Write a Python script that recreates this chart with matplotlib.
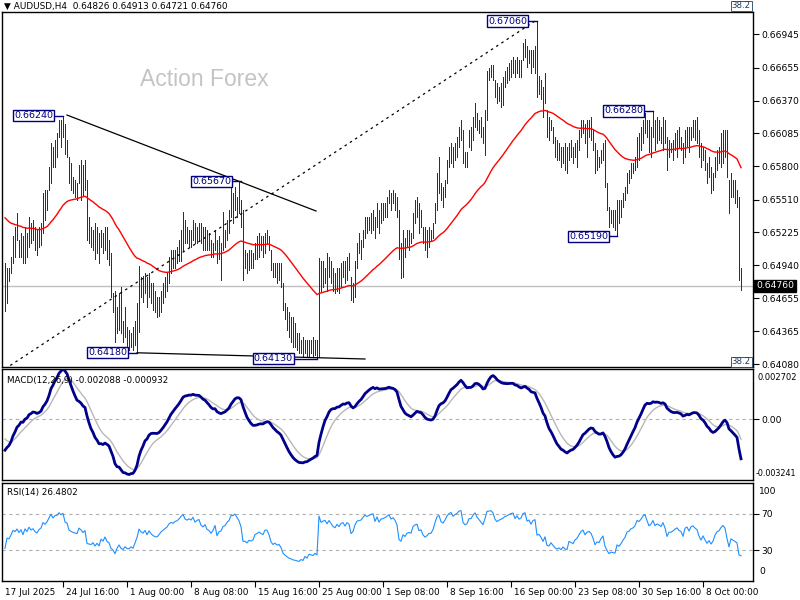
import matplotlib
matplotlib.use("Agg")
import matplotlib.pyplot as plt
import numpy as np

plt.rcParams['font.family'] = ['DejaVu Sans']

# AUDUSD H4 bars. Values are pips above base price.
base = 0.6400
high_pips = [96,92,92,101,119,127,139,116,122,119,
    127,122,136,131,133,127,125,127,131,157,
    159,159,179,200,197,203,209,220,220,224,
    217,203,188,183,171,168,165,181,185,181,
    185,168,136,127,125,131,127,122,125,122,
    127,127,116,105,70,72,58,70,75,46,
    58,40,38,35,40,46,61,93,84,85,
    87,84,87,79,79,72,66,66,72,79,
    84,87,101,107,107,107,110,116,125,140,
    133,127,125,125,133,131,127,131,131,127,
    127,125,122,116,113,125,116,119,113,140,
    125,133,142,162,157,162,153,167,151,142,
    107,105,107,107,105,113,119,122,119,119,
    122,125,119,107,96,96,96,96,96,79,
    61,58,53,49,49,44,35,35,29,32,
    29,29,29,29,32,29,29,100,98,98,
    92,105,101,98,92,87,92,92,96,98,
    98,101,105,84,79,98,113,122,116,125,
    136,136,136,139,142,136,148,142,148,148,
    148,153,159,157,159,157,153,142,113,125,
    118,125,125,122,139,151,153,148,142,127,
    127,125,127,125,131,148,174,188,165,162,
    168,185,197,200,197,200,205,214,220,211,
    192,192,211,214,223,235,226,220,223,214,
    229,263,265,268,268,255,252,249,252,257,
    263,266,270,272,275,272,275,272,272,287,
    290,284,281,281,281,284,306,258,255,249,
    261,229,223,220,214,205,203,200,197,197,
    200,197,200,203,197,200,203,211,220,220,
    217,220,220,223,211,200,194,188,194,200,
    203,165,145,142,142,142,151,151,151,157,
    162,174,177,183,183,188,205,209,214,220,
    226,220,220,214,228,220,223,220,214,223,
    220,205,203,200,203,209,211,214,205,200,
    211,214,214,214,220,220,223,211,200,197,
    194,183,188,179,174,188,194,197,209,211,
    211,211,168,174,168,168,159,153,91.3]
low_pips = [54,61,80,87,96,101,116,101,101,96,
    96,101,110,113,116,107,103,110,112,122,
    133,142,159,165,179,179,188,205,197,205,
    191,188,165,159,157,153,151,165,151,155,
    159,116,113,110,107,99,105,96,110,105,
    107,99,94,66,53,27,35,38,35,27,
    32,23,20,23,20,25,18,36,66,62,
    70,58,66,61,55,53,49,50,53,61,
    66,72,79,87,92,92,96,98,98,107,
    113,113,110,110,116,113,113,116,113,107,
    107,107,107,101,101,107,96,99,81,107,
    110,116,122,136,131,142,136,139,127,81,
    92,87,90,92,92,99,99,101,107,101,
    105,113,107,90,84,84,79,81,75,55,
    47,38,32,27,23,23,20,18,18,14,
    18,14,14,18,14,16,13,14,72,75,
    79,72,84,79,72,70,72,70,75,84,
    79,81,90,64,62,66,92,105,99,110,
    118,122,125,122,125,118,127,122,131,133,
    136,136,148,142,148,142,136,99,83,84,
    101,110,107,113,118,131,136,122,127,113,
    107,101,110,116,118,131,142,157,151,145,
    153,165,179,183,179,185,188,197,203,183,
    179,179,197,194,203,214,211,209,205,200,
    190,220,255,257,255,240,235,237,231,233,
    249,252,255,257,261,257,261,257,257,272,
    275,266,270,261,266,261,240,243,238,223,
    235,205,203,211,200,188,185,185,179,183,
    177,174,185,188,183,188,179,194,205,209,
    200,188,205,203,194,174,177,179,183,185,
    162,142,127,131,127,125,119,131,136,145,
    151,157,165,170,174,177,179,185,194,200,
    209,205,192,188,205,194,200,203,200,194,
    200,177,188,192,185,194,188,197,194,183,
    188,197,192,203,205,203,200,188,179,185,
    177,165,171,157,159,171,177,183,179,183,
    188,171,139,153,153,148,145,81,72.1]
close_pips = [58,88,85,98,115,110,120,108,118,100,
    122,112,130,120,125,115,110,122,128,150,
    145,155,175,195,185,198,200,215,210,218,
    195,192,170,165,162,160,158,175,170,162,
    168,120,118,115,120,105,112,100,118,110,
    122,104,98,70,60,35,50,60,40,32,
    40,30,28,33,26,40,55,85,75,70,
    80,64,78,68,60,57,55,62,70,75,
    80,85,95,100,98,104,106,112,120,128,
    120,118,122,120,128,120,125,127,118,115,
    120,112,110,105,110,120,100,108,110,120,
    122,130,135,150,150,155,150,145,135,100,
    100,95,100,98,100,110,112,115,112,110,
    118,118,110,95,88,90,85,86,78,60,
    52,45,38,35,30,28,25,22,24,20,
    24,18,22,20,18,20,16,95,80,85,
    88,80,92,85,78,75,85,80,90,92,
    85,95,92,70,75,95,108,110,112,122,
    130,128,132,135,138,125,140,130,140,142,
    145,150,155,148,152,148,140,105,100,115,
    110,118,120,118,135,140,142,128,130,118,
    112,115,120,120,128,145,165,170,158,155,
    165,180,190,195,188,195,200,210,212,190,
    185,188,205,205,218,228,220,215,210,205,
    225,258,260,262,258,245,240,245,248,252,
    258,260,265,268,270,262,270,265,268,282,
    285,272,275,268,278,280,248,250,242,230,
    240,210,208,215,205,195,190,192,185,190,
    182,180,195,192,188,195,198,205,212,215,
    205,210,212,208,198,180,185,183,190,195,
    165,148,132,135,132,130,145,140,145,152,
    158,170,172,178,180,185,200,198,205,215,
    220,210,200,205,215,205,210,208,205,215,
    205,185,195,195,198,202,205,200,198,188,
    205,208,200,210,212,208,205,192,182,190,
    180,170,175,165,170,182,190,192,200,205,
    200,175,145,165,160,155,150,82.6,76.0]

header = "\u25BC AUDUSD,H4  0.64826 0.64913 0.64721 0.64760"
last_price = 0.64760

price_ticks = [0.66945, 0.66655, 0.66370, 0.66085, 0.65800, 0.65510,
               0.65225, 0.64940, 0.64655, 0.64365, 0.64080]

date_labels = ["17 Jul 2025", "24 Jul 16:00", "1 Aug 00:00", "8 Aug 08:00",
               "15 Aug 16:00", "25 Aug 00:00", "1 Sep 08:00", "8 Sep 16:00",
               "16 Sep 00:00", "23 Sep 08:00", "30 Sep 16:00", "8 Oct 00:00"]
date_bars = [-1.5, 29, 61, 93, 125, 157, 189, 221, 253, 285, 317, 349]

# swing labels: price, bar of the swing, bar where the box ends
swing_prices = [0.66240, 0.65670, 0.64180, 0.64130, 0.67060, 0.66280, 0.65190]
swing_bars = [29, 118, 66, 156, 266, 324, 306]
swing_box_end = [24, 113, 61, 144, 261, 319, 301.5]

# drawn trend lines (bar, price) pairs
trend_solid_1 = [(31, 0.66244), (155.5, 0.65411)]
trend_solid_2 = [(66, 0.64180), (180, 0.64126)]
trend_dotted = [(0, 0.64040), (265, 0.67060)]

# indicator seeds (state before first visible bar)
ema55_seed = 0.6538
ema12_seed, ema26_seed, signal_seed = 0.6490, 0.6505, -0.0009
rsi_seed_gain, rsi_seed_loss, prev_close_seed = 0.0004, 0.0008, 0.6465

highs = base + np.array(high_pips) / 10000
lows = base + np.array(low_pips) / 10000
closes = base + np.array(close_pips) / 10000
n = len(closes)
idx = np.arange(n)


def ema(values, period, seed):
    k = 2.0 / (period + 1)
    out = []
    prev = seed
    for v in values:
        prev = prev + k * (v - prev)
        out.append(prev)
    return np.array(out)


ema55 = ema(closes, 55, ema55_seed)
macd = ema(closes, 12, ema12_seed) - ema(closes, 26, ema26_seed)
signal = ema(macd, 9, signal_seed)

rsi = []
ag, al, pc = rsi_seed_gain, rsi_seed_loss, prev_close_seed
for c in closes:
    ch = c - pc
    ag = (ag * 13 + max(ch, 0)) / 14
    al = (al * 13 + max(-ch, 0)) / 14
    rsi.append(100 - 100 / (1 + ag / al) if al > 0 else 100)
    pc = c
rsi = np.array(rsi)

W, H = 800, 600
fig = plt.figure(figsize=(8, 6), dpi=100)
fig.patch.set_facecolor("white")
left = 2 / W
width = 751 / W
ax1 = fig.add_axes([left, 1 - 367 / H, width, 355 / H])
ax2 = fig.add_axes([left, 1 - 480 / H, width, 111 / H])
ax3 = fig.add_axes([left, 1 - 581 / H, width, 98 / H])

fs = 6.6
for ax in (ax1, ax2, ax3):
    ax.set_xlim(-1.5, 374)
    for s in ax.spines.values():
        s.set_color("black")
        s.set_linewidth(1)
    ax.yaxis.tick_right()
    ax.tick_params(axis="y", direction="out", length=4, width=0.8, pad=2, labelsize=fs)
    ax.tick_params(axis="x", direction="out", length=0, labelbottom=False)

# main price panel
ax1.set_ylim(0.640566, 0.671386)
ax1.axhline(last_price, color="#c0c0c0", lw=1, zorder=1)
ax1.vlines(idx, lows, highs, color="#0d3a5a", lw=0.55, zorder=3, antialiased=False)
ax1.plot(idx, ema55, color="red", lw=1, zorder=4)
ax1.set_yticks(price_ticks)
ax1.set_yticklabels(["%.5f" % p for p in price_ticks])

for pts, ls in ((trend_solid_1, "-"), (trend_solid_2, "-"), (trend_dotted, (0, (2, 3)))):
    ax1.plot([pts[0][0], pts[1][0]], [pts[0][1], pts[1][1]], color="black",
             lw=0.9, ls=ls, zorder=5)

for p, b, e in zip(swing_prices, swing_bars, swing_box_end):
    ax1.plot([e, b], [p, p], color="#000080", lw=1, zorder=6)
    ax1.text(e, p, "%.5f" % p, ha="right", va="center", fontsize=6.8, color="#000080",
             zorder=7, bbox=dict(boxstyle="square,pad=0.12", fc="white", ec="#000080", lw=1))

ax1.text(1.004, (last_price - 0.640566) / (0.671386 - 0.640566), "%.5f" % last_price,
         transform=ax1.transAxes, ha="left", va="center", fontsize=fs, color="white",
         clip_on=False, zorder=10,
         bbox=dict(boxstyle="square,pad=0.2", fc="black", ec="black"))

fig.text(140 / W, 1 - 79 / H, "Action Forex", fontsize=16.5, color="#c4c4c4",
         va="center", ha="left", family="Liberation Sans")
fig.text(4 / W, 1 - 6 / H, header, fontsize=6.4, va="center", ha="left")
for yy in (6, 362):
    fig.text(751 / W, 1 - yy / H, "38.2", fontsize=6.2, va="center", ha="right",
             color="#1f3f5f",
             bbox=dict(boxstyle="square,pad=0.1", fc="white", ec="#1f3f5f", lw=0.6))

# MACD panel
ax2.set_ylim(-0.003241, 0.002702)
ax2.axhline(0, color="#b0b0b0", lw=0.8, ls=(0, (3, 3)))
ax2.plot(idx, signal, color="#b8b8b8", lw=1)
ax2.plot(idx, macd, color="#00008b", lw=2)
ax2.set_yticks([0])
ax2.set_yticklabels(["0.00"])
fig.text(757 / W, 1 - 378 / H, "0.002702", fontsize=6.0, va="center")
fig.text(756 / W, 1 - 474 / H, "-0.003241", fontsize=5.8, va="center")
ax2.text(0.006, 0.9, "MACD(12,26,9) -0.002088 -0.000932", transform=ax2.transAxes,
         fontsize=6.3, va="center", ha="left")

# RSI panel
ax3.set_ylim(-4.4, 104.4)
for lv in (70, 30):
    ax3.axhline(lv, color="#b0b0b0", lw=0.8, ls=(0, (3, 3)))
ax3.plot(idx, rsi, color="#1e90ff", lw=0.8)
ax3.set_yticks([70, 30])
ax3.set_yticklabels(["70", "30"])
fig.text(759 / W, 1 - 491 / H, "100", fontsize=fs, va="center")
fig.text(759 / W, 1 - 572 / H, "0", fontsize=fs, va="center")
ax3.text(0.006, 0.9, "RSI(14) %.4f" % 26.4802, transform=ax3.transAxes,
         fontsize=6.3, va="center", ha="left")

ax3.set_xticks(date_bars[1:])
ax3.tick_params(axis="x", direction="out", length=4, width=0.8)
for b, lab in zip(date_bars, date_labels):
    ax3.text(b + 1.5, -0.07, lab, transform=ax3.get_xaxis_transform(), fontsize=6.4,
             ha="left", va="top", clip_on=False)

fig.savefig("out.png", dpi=100, facecolor="white")
